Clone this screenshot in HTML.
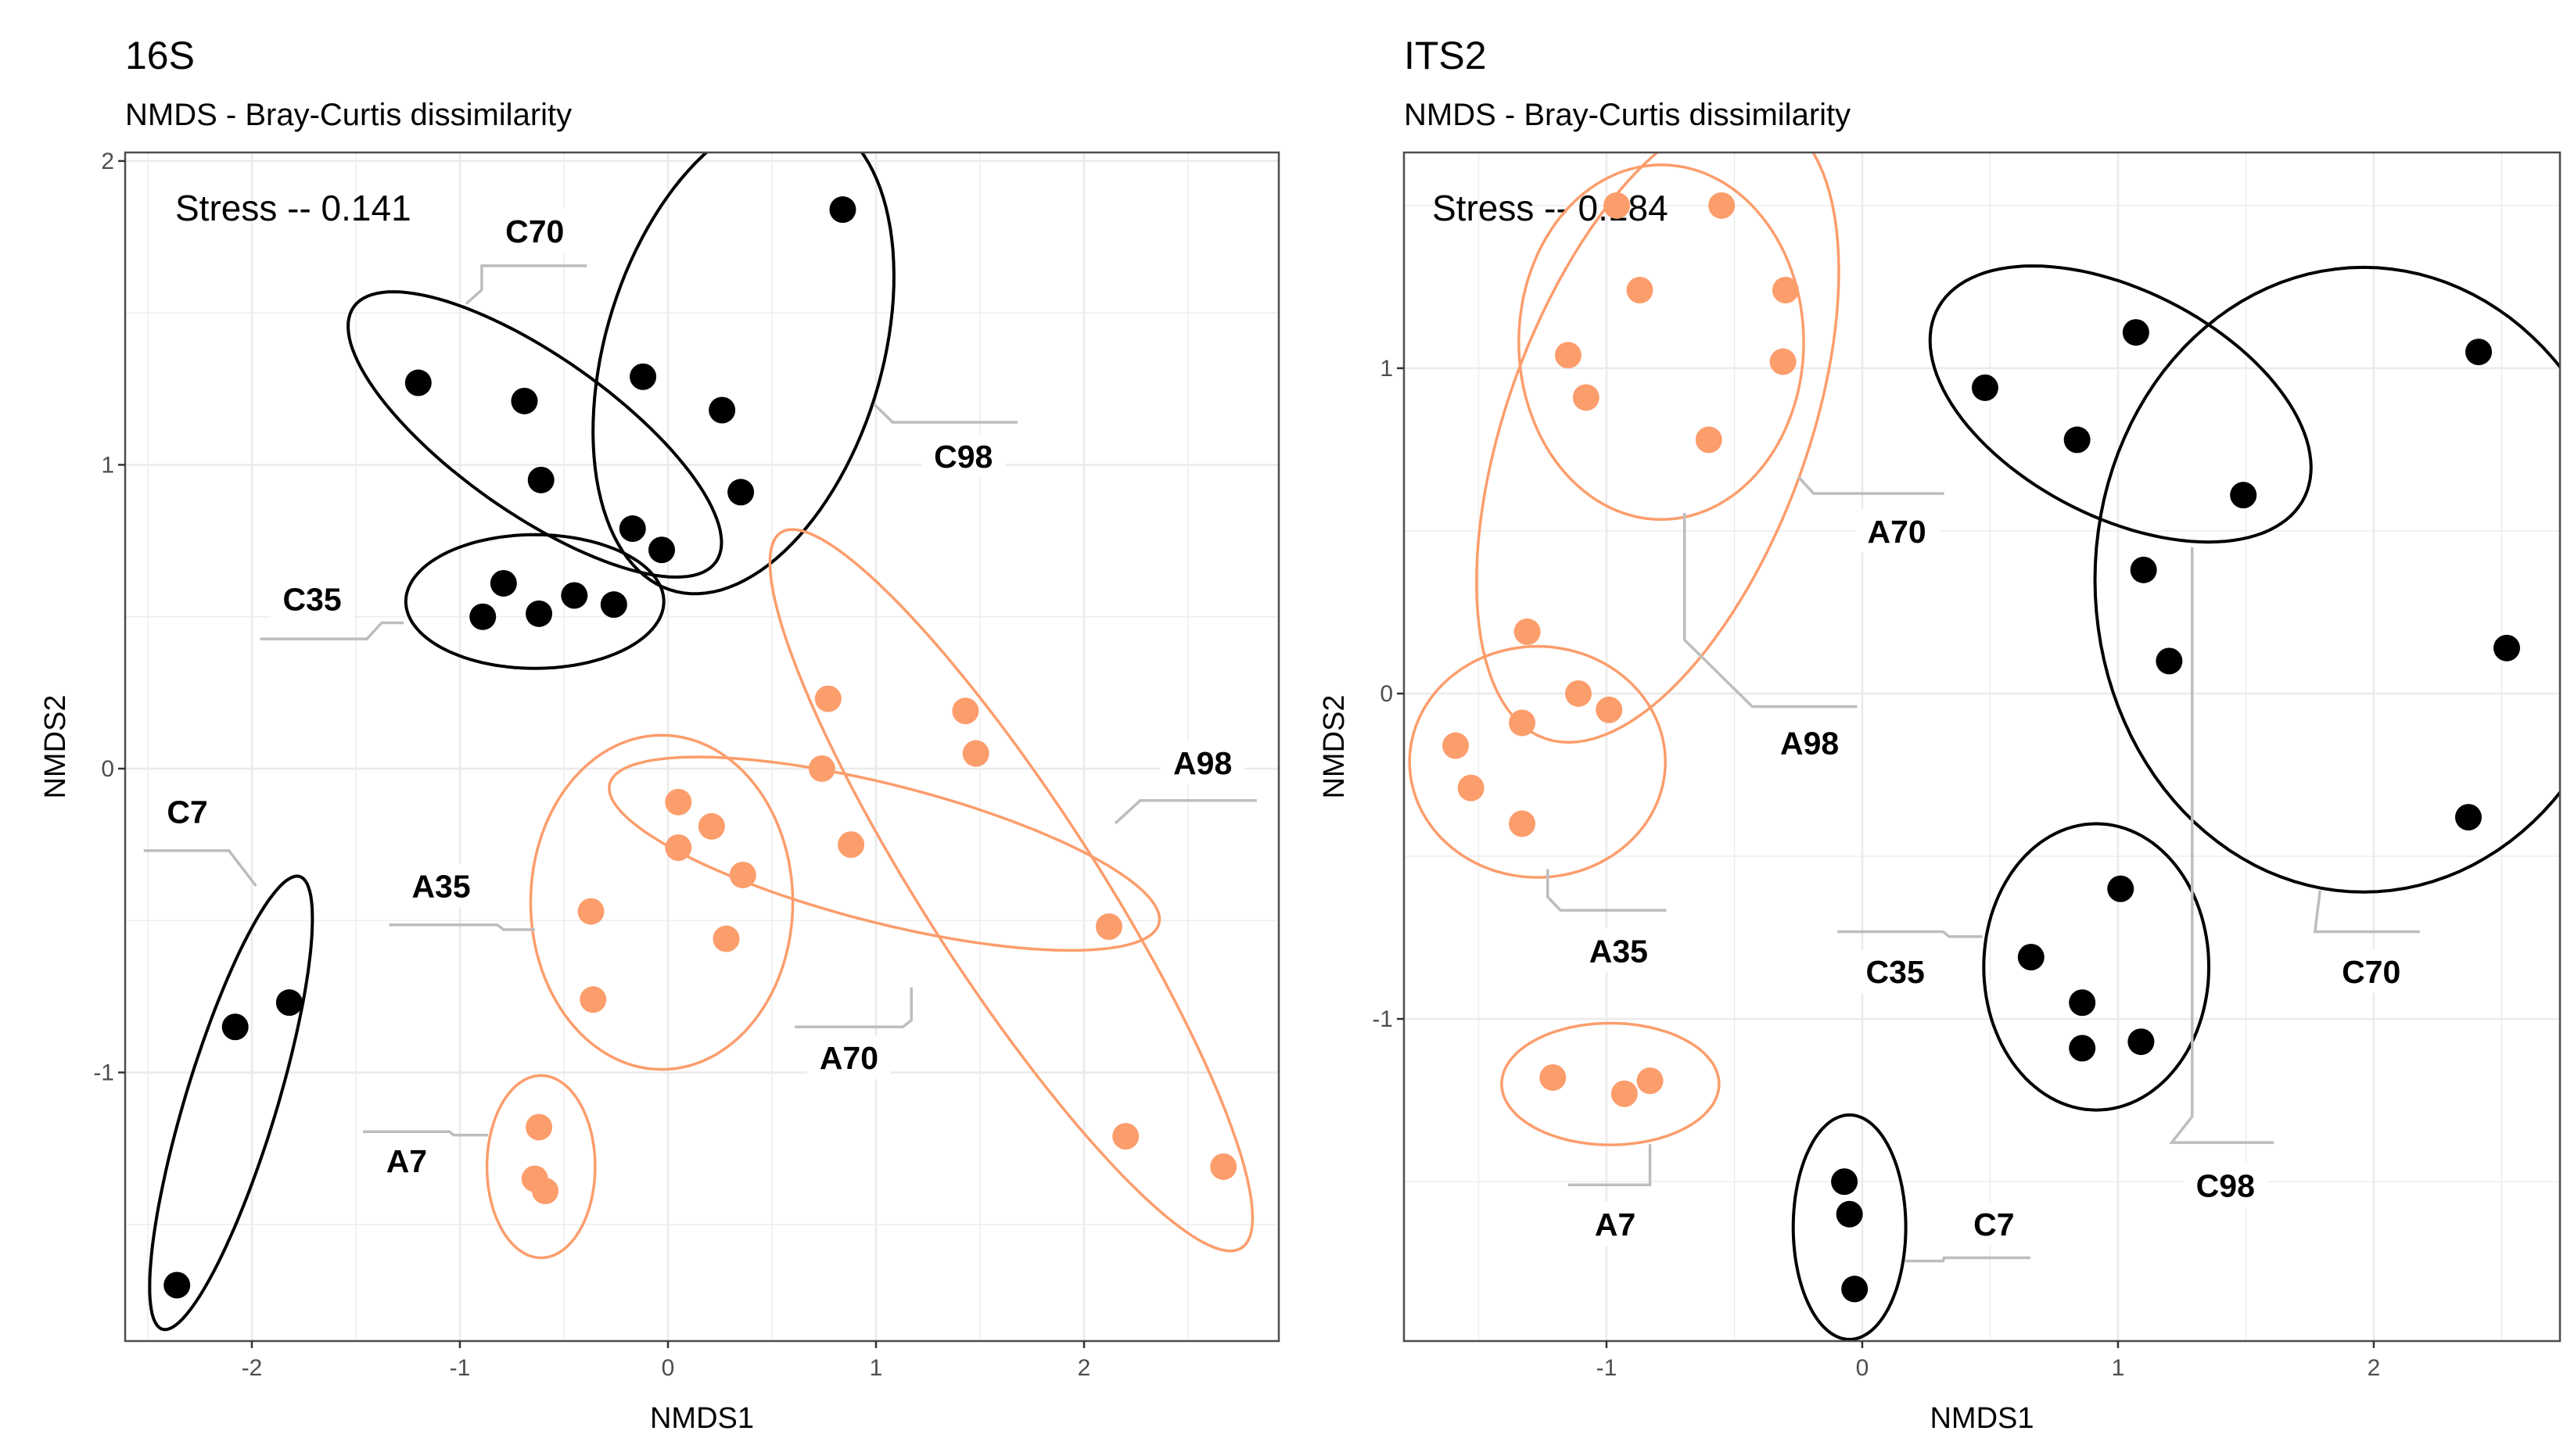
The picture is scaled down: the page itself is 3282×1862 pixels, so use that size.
<!DOCTYPE html>
<html><head><meta charset="utf-8"><style>
body{margin:0;background:#fff;}
svg{display:block;font-family:"Liberation Sans",sans-serif;}
</style></head><body>
<svg id="fig" width="3282" height="1862" viewBox="0 0 3282 1862" xmlns="http://www.w3.org/2000/svg"></svg>
<script>
// ===== 16S data =====
const s16BlackX = [0.84,-0.12,0.26,0.35,-0.17,-0.03,-1.20,-0.69,-0.61,-0.79,-0.89,-0.62,-0.45,-0.26,-2.08,-1.82,-2.36];
const s16BlackY = [1.84,1.29,1.18,0.91,0.79,0.72,1.27,1.21,0.95,0.61,0.50,0.51,0.57,0.54,-0.85,-0.77,-1.70];
const s16OrangeX = [-0.62,-0.64,-0.59,-0.37,-0.36,0.05,0.05,0.21,0.36,0.28,0.77,0.74,1.43,1.48,0.88,2.12,2.20,2.67];
const s16OrangeY = [-1.18,-1.35,-1.39,-0.47,-0.76,-0.11,-0.26,-0.19,-0.35,-0.56,0.23,0.00,0.19,0.05,-0.25,-0.52,-1.21,-1.31];
const s16EllName = ["C70","C98","C35","C7","A7","A35","A70","A98"];
const s16EllColor = ["k","k","k","k","o","o","o","o"];
const s16EllC = [[-0.64,1.10],[0.363,1.366],[-0.64,0.55],[-2.10,-1.10],[-0.61,-1.31],[-0.03,-0.44],[1.04,-0.28],[1.65,-0.40]];
const s16EllA = [[0.87,-0.42],[-0.355,-0.777],[0.62,0],[0.33,0.745],[0.26,0],[0.63,0],[1.32,-0.23],[1.106,-1.178]];
const s16EllB = [[-0.22,-0.21],[0.63,-0.145],[0,0.22],[0.21,-0.043],[0,0.30],[0,0.55],[-0.083,-0.22],[0.35,0.15]];
const s16LabText = ["C70","C98","C35","C7","A35","A7","A70","A98"];
const s16LabPos = [[-0.64,1.77],[1.42,1.03],[-1.71,0.56],[-2.31,-0.14],[-1.09,-0.385],[-1.256,-1.29],[0.87,-0.95],[2.57,0.02]];
const s16Lead = [
 [[-0.39,1.655],[-0.895,1.655],[-0.895,1.576],[-0.97,1.53]],
 [[1.68,1.14],[1.08,1.14],[0.99,1.20]],
 [[-1.96,0.427],[-1.447,0.427],[-1.376,0.48],[-1.27,0.48]],
 [[-2.52,-0.27],[-2.11,-0.27],[-1.98,-0.386]],
 [[-1.34,-0.514],[-0.82,-0.514],[-0.79,-0.53],[-0.64,-0.53]],
 [[-1.466,-1.195],[-1.05,-1.195],[-1.03,-1.206],[-0.865,-1.206]],
 [[0.61,-0.85],[1.13,-0.85],[1.17,-0.828],[1.17,-0.72]],
 [[2.83,-0.105],[2.27,-0.105],[2.15,-0.18]]
];
const s16XTicks = [-2,-1,0,1,2];
const s16YTicks = [-1,0,1,2];
// ===== ITS2 data =====
const itsBlackX = [1.07,0.48,0.84,2.41,1.49,1.10,1.20,2.52,2.37,1.01,0.66,0.86,0.86,1.09,-0.07,-0.05,-0.03];
const itsBlackY = [1.11,0.94,0.78,1.05,0.61,0.38,0.10,0.14,-0.38,-0.60,-0.81,-0.95,-1.09,-1.07,-1.50,-1.60,-1.83];
const itsOrangeX = [-0.96,-0.55,-0.87,-0.30,-1.15,-0.31,-1.08,-0.60,-1.31,-1.11,-0.99,-1.33,-1.59,-1.53,-1.33,-1.21,-0.93,-0.83];
const itsOrangeY = [1.50,1.50,1.24,1.24,1.04,1.02,0.91,0.78,0.19,0.00,-0.05,-0.09,-0.16,-0.29,-0.40,-1.18,-1.23,-1.19];
const itsEllName = ["A70","A98","A35","A7","C98","C70","C35","C7"];
const itsEllColor = ["o","o","o","o","k","k","k","k"];
const itsEllC = [[-0.786,1.08],[-0.80,0.82],[-1.27,-0.21],[-0.985,-1.20],[1.01,0.89],[1.96,0.35],[0.915,-0.84],[-0.05,-1.64]];
const itsEllA = [[0.557,0],[0.61,0.84],[0.50,0],[0.425,0],[0.71,-0.30],[1.05,0],[0.44,0],[0.22,0]];
const itsEllB = [[0,0.545],[0.36,-0.485],[0,0.355],[0,0.187],[-0.225,-0.30],[0,0.96],[0,0.44],[0,0.345]];
const itsLabText = ["A70","A98","A35","C35","C70","C98","A7","C7"];
const itsLabPos = [[0.135,0.50],[-0.206,-0.15],[-0.953,-0.79],[0.129,-0.853],[1.99,-0.853],[1.42,-1.51],[-0.966,-1.63],[0.515,-1.63]];
const itsLead = [
 [[0.32,0.615],[-0.19,0.615],[-0.25,0.666]],
 [[-0.02,-0.04],[-0.43,-0.04],[-0.695,0.165],[-0.695,0.555]],
 [[-0.766,-0.666],[-1.18,-0.666],[-1.23,-0.625],[-1.23,-0.54]],
 [[-0.097,-0.732],[0.316,-0.732],[0.34,-0.747],[0.47,-0.747]],
 [[2.18,-0.732],[1.77,-0.732],[1.79,-0.605]],
 [[1.61,-1.38],[1.21,-1.38],[1.29,-1.30],[1.29,0.45]],
 [[-1.15,-1.51],[-0.83,-1.51],[-0.83,-1.385]],
 [[0.657,-1.734],[0.32,-1.734],[0.316,-1.744],[0.167,-1.744]]
];
const itsXTicks = [-1,0,1,2];
const itsYTicks = [-1,0,1];

const NS="http://www.w3.org/2000/svg";
const svg=document.getElementById('fig');
const ORANGE="#FC9D6C";
function mk(tag,attrs,parent){const e=document.createElementNS(NS,tag);for(const k in attrs)e.setAttribute(k,attrs[k]);(parent||svg).appendChild(e);return e;}

function panel(cfg){
  const {L,R,T,B,xmin,xmax,ymin,ymax,id}=cfg;
  const sx=v=>L+(v-xmin)/(xmax-xmin)*(R-L);
  const sy=v=>B-(v-ymin)/(ymax-ymin)*(B-T);
  const g=mk('g',{});
  
  
  const cp=mk('clipPath',{id:id+'clip'},g);mk('rect',{x:L,y:T,width:R-L,height:B-T},cp);
  const t=mk('text',{x:L,y:88,'font-size':50,fill:'#000'},g);t.textContent=cfg.title;
  
  const st=mk('text',{x:L,y:160,'font-size':40,fill:'#000'},g);st.textContent='NMDS - Bray-Curtis dissimilarity';
  
  const grid=mk('g',{'clip-path':`url(#${id}clip)`},g);
  
  for(let v=Math.ceil(xmin*2)/2;v<=xmax;v+=0.5){const major=Math.abs(v-Math.round(v))<1e-6;
    mk('line',{x1:sx(v),x2:sx(v),y1:T,y2:B,stroke:'#ebebeb','stroke-width':major?2.6:1.3},grid);}
  for(let v=Math.ceil(ymin*2)/2;v<=ymax;v+=0.5){const major=Math.abs(v-Math.round(v))<1e-6;
    mk('line',{x1:L,x2:R,y1:sy(v),y2:sy(v),stroke:'#ebebeb','stroke-width':major?2.6:1.3},grid);}
  const s=mk('text',{x:L+cfg.stressDX,y:282,'font-size':46,fill:'#000'},g);s.textContent=cfg.stress;
  
  const clip=mk('g',{'clip-path':`url(#${id}clip)`},g);
  cfg.ellC.forEach((c,i)=>{
    let d='';
    for(let k=0;k<=120;k++){const th=k/120*2*Math.PI;
      const x=c[0]+cfg.ellA[i][0]*Math.cos(th)+cfg.ellB[i][0]*Math.sin(th);
      const y=c[1]+cfg.ellA[i][1]*Math.cos(th)+cfg.ellB[i][1]*Math.sin(th);
      d+=(k?'L':'M')+sx(x).toFixed(1)+','+sy(y).toFixed(1);}
    const e=mk('path',{d:d+'Z',fill:'none',stroke:cfg.ellColor[i]==='k'?'#000':ORANGE,'stroke-width':cfg.ellColor[i]==='k'?4:3.5},clip);
    
    
  });
  cfg.bx.forEach((x,i)=>{const p=mk('circle',{cx:sx(x),cy:sy(cfg.by[i]),r:17,fill:'#000'},clip);
    
    });
  cfg.ox.forEach((x,i)=>{const p=mk('circle',{cx:sx(x),cy:sy(cfg.oy[i]),r:17,fill:ORANGE},clip);
    
    });
  cfg.lead.forEach((pts,i)=>{
    const l=mk('polyline',{points:pts.map(p=>sx(p[0])+','+sy(p[1])).join(' '),fill:'none',stroke:'#bdbdbd','stroke-width':3.5},clip);
    
    
  });
  cfg.labPos.forEach((p,i)=>{
    const w=cfg.labText[i].length*27+26;
    mk('rect',{x:sx(p[0])-w/2,y:sy(p[1])-28,width:w,height:56,fill:'#fff'},clip);
    const tx=mk('text',{x:sx(p[0]),y:sy(p[1])+15,'font-size':41,'font-weight':'bold','text-anchor':'middle',fill:'#000'},clip);
    tx.textContent=cfg.labText[i];
    
    
  });
  const bd=mk('rect',{x:L,y:T,width:R-L,height:B-T,fill:'none',stroke:'#4d4d4d','stroke-width':2.5},g);
  
  cfg.xt.forEach(v=>{mk('line',{x1:sx(v),x2:sx(v),y1:B,y2:B+9,stroke:'#333','stroke-width':2.5},g);
    const tl=mk('text',{x:sx(v),y:B+44,'font-size':30,fill:'#4d4d4d','text-anchor':'middle'},g);tl.textContent=v;
    });
  cfg.yt.forEach(v=>{mk('line',{x1:L-9,x2:L,y1:sy(v),y2:sy(v),stroke:'#333','stroke-width':2.5},g);
    const tl=mk('text',{x:L-14,y:sy(v)+10,'font-size':30,fill:'#4d4d4d','text-anchor':'end'},g);tl.textContent=v;
    });
  const xa=mk('text',{x:(L+R)/2,y:1826,'font-size':38,'text-anchor':'middle',fill:'#000'},g);xa.textContent='NMDS1';
  
  const yx=cfg.yTitleX, yc=(T+B)/2;
  const ya=mk('text',{x:yx,y:yc,'font-size':38,'text-anchor':'middle',fill:'#000',transform:`rotate(-90 ${yx} ${yc})`},g);ya.textContent='NMDS2';
  
}

panel({id:'s16',title:'16S',stress:'Stress -- 0.141',stressDX:64,L:160,R:1635,T:195,B:1715,
  xmin:-2.609,xmax:2.936,ymin:-1.884,ymax:2.028,yTitleX:83,
  bx:s16BlackX,by:s16BlackY,ox:s16OrangeX,oy:s16OrangeY,
  ellC:s16EllC,ellA:s16EllA,ellB:s16EllB,ellName:s16EllName,ellColor:s16EllColor,
  labText:s16LabText,labPos:s16LabPos,lead:s16Lead,xt:s16XTicks,yt:s16YTicks});
panel({id:'its2',title:'ITS2',stress:'Stress -- 0.184',stressDX:36,L:1795,R:3273,T:195,B:1715,
  xmin:-1.792,xmax:2.728,ymin:-1.99,ymax:1.663,yTitleX:1718,
  bx:itsBlackX,by:itsBlackY,ox:itsOrangeX,oy:itsOrangeY,
  ellC:itsEllC,ellA:itsEllA,ellB:itsEllB,ellName:itsEllName,ellColor:itsEllColor,
  labText:itsLabText,labPos:itsLabPos,lead:itsLead,xt:itsXTicks,yt:itsYTicks});
</script>
</body></html>
